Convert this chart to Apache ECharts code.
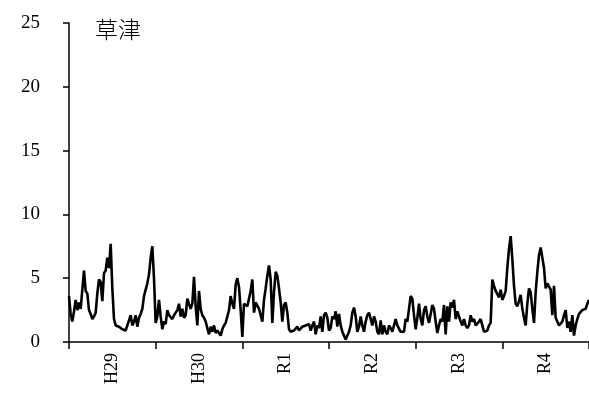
<!DOCTYPE html>
<html>
<head>
<meta charset="utf-8">
<script src="https://cdn.jsdelivr.net/npm/echarts@6/dist/echarts.min.js"></script>
<style>
  html, body { margin: 0; padding: 0; background: #fff; }
  #chart { width: 589px; height: 394px; }
</style>
</head>
<body>
<div id="chart"></div>
<script>
// Fiscal years shown on the x axis
const years = ['H29', 'H30', 'R1', 'R2', 'R3', 'R4'];
const pointsPerYear = 52;

// Weekly readings for each fiscal year
const h29 = [3.6, 2.2, 1.6, 2.4, 3.3, 2.5, 3.1, 2.6, 2.5, 5.6, 4.0, 3.8, 2.5, 2.2, 1.8, 2.0, 2.3, 3.8, 4.9, 4.7,
             3.2, 5.4, 5.6, 6.6, 5.8, 7.7, 4.2, 1.8, 1.3, 1.4, 1.2, 1.1, 1.0, 1.0, 0.9, 1.3, 1.7, 2.1, 1.3, 1.6,
             2.1, 1.2, 1.9, 2.2, 2.6, 3.6, 4.1, 4.6, 5.3, 6.6, 7.5, 5.0];
const h30 = [1.5, 2.0, 3.3, 2.0, 1.0, 1.6, 1.4, 2.5, 2.1, 2.2, 1.8, 2.1, 2.2, 2.5, 3.0, 2.0, 2.6, 1.9, 2.1, 3.4,
             3.3, 2.6, 3.0, 5.1, 2.8, 1.3, 4.0, 2.6, 2.1, 1.9, 1.6, 1.1, 0.6, 1.2, 0.8, 1.3, 0.7, 0.9, 0.7, 0.5,
             1.0, 1.3, 1.5, 1.6, 2.5, 3.6, 3.0, 2.6, 4.5, 5.0, 4.3, 2.5];
const r1  = [0.4, 3.0, 2.9, 2.8, 2.9, 4.0, 4.9, 2.3, 3.1, 3.1, 2.6, 2.1, 1.6, 3.3, 4.2, 5.2, 6.0, 4.9, 1.5, 3.9,
             5.5, 5.2, 4.2, 3.1, 1.6, 2.9, 3.1, 2.3, 1.0, 0.8, 0.7, 0.9, 0.8, 1.2, 0.9, 0.8, 1.2, 1.1, 1.3, 1.2,
             1.4, 0.9, 1.3, 1.6, 0.6, 1.3, 1.1, 2.0, 0.8, 2.1, 2.3, 1.9];
const r2  = [0.9, 1.1, 2.0, 1.8, 2.4, 1.2, 2.2, 1.3, 0.8, 0.5, 0.2, 0.3, 0.8, 1.3, 2.3, 2.7, 2.0, 0.8, 1.2, 2.0,
             1.3, 0.8, 1.6, 2.1, 2.3, 1.8, 1.3, 2.0, 1.6, 0.8, 0.6, 1.7, 0.6, 1.3, 0.8, 0.6, 1.3, 1.1, 0.8, 1.3,
             1.8, 1.3, 1.3, 0.8, 0.7, 0.8, 1.8, 1.6, 2.6, 3.6, 3.4, 2.1];
const r3  = [1.0, 1.9, 3.0, 1.8, 1.3, 2.5, 2.8, 2.0, 1.5, 2.2, 2.9, 2.6, 1.6, 0.7, 1.3, 1.8, 1.6, 2.9, 0.6, 2.8,
             1.6, 3.1, 2.7, 3.3, 1.8, 2.4, 2.0, 1.6, 1.3, 1.8, 1.3, 1.1, 1.3, 2.1, 1.6, 1.8, 1.3, 1.3, 1.6, 1.8,
             1.3, 0.8, 0.9, 0.9, 1.3, 1.5, 4.9, 4.4, 4.0, 3.9, 3.5, 4.1];
const r4  = [3.3, 3.6, 4.0, 5.8, 7.3, 8.3, 6.5, 4.4, 3.0, 2.8, 3.2, 3.7, 2.6, 1.9, 1.3, 3.0, 4.2, 3.9, 2.6, 1.5,
             3.9, 5.5, 6.8, 7.4, 7.3, 5.8, 4.2, 4.6, 4.7, 4.1, 2.1, 4.4, 1.9, 1.6, 1.3, 1.4, 1.6, 2.1, 2.5, 1.1,
             1.6, 0.8, 2.1, 0.5, 1.3, 1.8, 2.2, 2.1, 2.5, 2.4, 2.6, 3.0, 3.3];

// Y axis scale
const yMin = 0, yMax = 25, yStep = 5;

const values = [].concat(h29, h30, r1, r2, r3, r4);
const categories = values.map((_, i) => String(i));

const serif = '"Liberation Serif", "DejaVu Serif", serif';

const chart = echarts.init(document.getElementById('chart'), null, { renderer: 'canvas' });
chart.setOption({
  animation: false,
  backgroundColor: '#ffffff',
  title: {
    text: '草津',
    left: 90,
    top: 13,
    textStyle: {
      fontFamily: '"Noto Sans CJK JP", sans-serif',
      fontWeight: 300,
      fontSize: 23,
      color: '#000'
    }
  },
  grid: { left: 69, top: 23, bottom: 52, width: 522, containLabel: false },
  xAxis: {
    type: 'category',
    data: categories,
    boundaryGap: false,
    axisLine: { lineStyle: { color: '#000', width: 1.5 } },
    axisTick: {
      length: 7,
      lineStyle: { color: '#000', width: 1.5 },
      interval: (i) => i % pointsPerYear === 0
    },
    axisLabel: {
      interval: (i) => i % pointsPerYear === pointsPerYear / 2,
      formatter: (v, i) => years[Math.floor(i / pointsPerYear)] || '',
      rotate: 90,
      margin: 11,
      fontFamily: serif,
      fontSize: 18,
      color: '#000'
    },
    splitLine: { show: false }
  },
  yAxis: {
    type: 'value',
    min: yMin,
    max: yMax,
    interval: yStep,
    axisLine: { show: true, lineStyle: { color: '#000', width: 1.5 } },
    axisTick: { show: true, length: 6, lineStyle: { color: '#000', width: 1.5 } },
    axisLabel: {
      margin: 29,
      fontFamily: serif,
      fontSize: 19,
      color: '#000'
    },
    splitLine: { show: false }
  },
  series: [{
    type: 'line',
    data: values,
    showSymbol: false,
    symbol: 'none',
    lineStyle: { color: '#000', width: 2.6 },
    clip: true
  }]
});
</script>
</body>
</html>
